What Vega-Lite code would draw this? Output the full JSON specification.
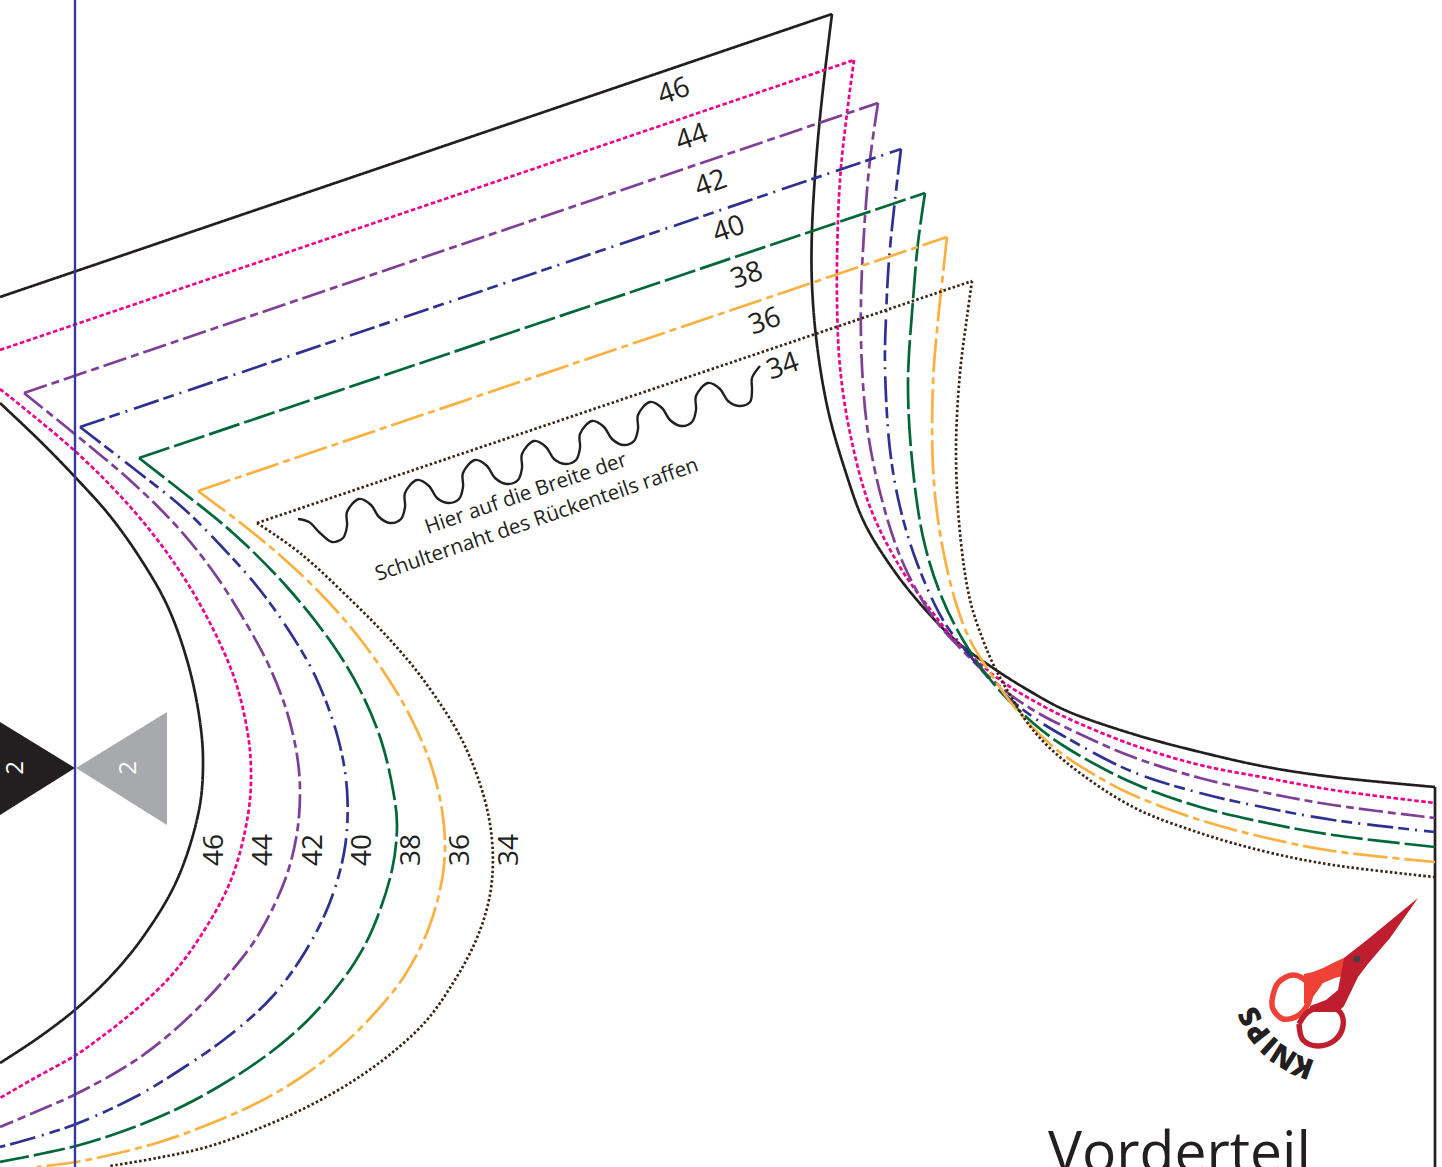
{"$schema":"https://vega.github.io/schema/vega-lite/v6.json","width":1442,"height":1167,"padding":0,"autosize":{"type":"none"},"background":"white","config":{"view":{"stroke":null}},
"datasets":{"lines":[
{"s":"46","p":"a","i":0,"x":0,"y":297},{"s":"46","p":"a","i":1,"x":832,"y":14},
{"s":"46","p":"b","i":0,"x":832,"y":14},{"s":"46","p":"b","i":1,"x":824,"y":80},{"s":"46","p":"b","i":2,"x":817,"y":150},{"s":"46","p":"b","i":3,"x":812,"y":230},{"s":"46","p":"b","i":4,"x":812,"y":285},{"s":"46","p":"b","i":5,"x":817,"y":345},{"s":"46","p":"b","i":6,"x":828,"y":410},{"s":"46","p":"b","i":7,"x":845,"y":470},{"s":"46","p":"b","i":8,"x":864,"y":522},{"s":"46","p":"b","i":9,"x":890,"y":565},{"s":"46","p":"b","i":10,"x":917,"y":600},{"s":"46","p":"b","i":11,"x":955,"y":640},{"s":"46","p":"b","i":12,"x":993,"y":668},{"s":"46","p":"b","i":13,"x":1033,"y":693},{"s":"46","p":"b","i":14,"x":1067,"y":711},{"s":"46","p":"b","i":15,"x":1133,"y":734},{"s":"46","p":"b","i":16,"x":1200,"y":752},{"s":"46","p":"b","i":17,"x":1267,"y":767},{"s":"46","p":"b","i":18,"x":1333,"y":777},{"s":"46","p":"b","i":19,"x":1435,"y":787},
{"s":"46","p":"c","i":0,"x":1435,"y":787},{"s":"46","p":"c","i":1,"x":1435,"y":1167},
{"s":"46","p":"d","i":0,"x":0,"y":403},{"s":"46","p":"d","i":1,"x":40,"y":441},{"s":"46","p":"d","i":2,"x":76,"y":478},{"s":"46","p":"d","i":3,"x":110,"y":516},{"s":"46","p":"d","i":4,"x":140,"y":558},{"s":"46","p":"d","i":5,"x":167,"y":605},{"s":"46","p":"d","i":6,"x":187,"y":660},{"s":"46","p":"d","i":7,"x":199,"y":715},{"s":"46","p":"d","i":8,"x":203,"y":760},{"s":"46","p":"d","i":9,"x":199,"y":810},{"s":"46","p":"d","i":10,"x":177,"y":880},{"s":"46","p":"d","i":11,"x":143,"y":937},{"s":"46","p":"d","i":12,"x":110,"y":977},{"s":"46","p":"d","i":13,"x":76,"y":1009},{"s":"46","p":"d","i":14,"x":38,"y":1038},{"s":"46","p":"d","i":15,"x":0,"y":1063},
{"s":"44","p":"a","i":0,"x":0,"y":350},{"s":"44","p":"a","i":1,"x":854,"y":60},
{"s":"44","p":"b","i":0,"x":854,"y":60},{"s":"44","p":"b","i":1,"x":847,"y":113},{"s":"44","p":"b","i":2,"x":841,"y":167},{"s":"44","p":"b","i":3,"x":838,"y":220},{"s":"44","p":"b","i":4,"x":837,"y":300},{"s":"44","p":"b","i":5,"x":840,"y":367},{"s":"44","p":"b","i":6,"x":850,"y":433},{"s":"44","p":"b","i":7,"x":870,"y":507},{"s":"44","p":"b","i":8,"x":900,"y":567},{"s":"44","p":"b","i":9,"x":933,"y":613},{"s":"44","p":"b","i":10,"x":955,"y":640},{"s":"44","p":"b","i":11,"x":1000,"y":680},{"s":"44","p":"b","i":12,"x":1043,"y":706},{"s":"44","p":"b","i":13,"x":1067,"y":718},{"s":"44","p":"b","i":14,"x":1133,"y":745},{"s":"44","p":"b","i":15,"x":1200,"y":765},{"s":"44","p":"b","i":16,"x":1267,"y":778},{"s":"44","p":"b","i":17,"x":1333,"y":790},{"s":"44","p":"b","i":18,"x":1435,"y":803},
{"s":"44","p":"d","i":0,"x":0,"y":389},{"s":"44","p":"d","i":1,"x":76,"y":452},{"s":"44","p":"d","i":2,"x":133,"y":510},{"s":"44","p":"d","i":3,"x":177,"y":567},{"s":"44","p":"d","i":4,"x":210,"y":623},{"s":"44","p":"d","i":5,"x":235,"y":680},{"s":"44","p":"d","i":6,"x":248,"y":735},{"s":"44","p":"d","i":7,"x":251,"y":773},{"s":"44","p":"d","i":8,"x":248,"y":815},{"s":"44","p":"d","i":9,"x":231,"y":880},{"s":"44","p":"d","i":10,"x":200,"y":937},{"s":"44","p":"d","i":11,"x":170,"y":977},{"s":"44","p":"d","i":12,"x":133,"y":1012},{"s":"44","p":"d","i":13,"x":100,"y":1038},{"s":"44","p":"d","i":14,"x":76,"y":1055},{"s":"44","p":"d","i":15,"x":33,"y":1079},{"s":"44","p":"d","i":16,"x":0,"y":1098},
{"s":"42","p":"a","i":0,"x":24,"y":393},{"s":"42","p":"a","i":1,"x":878,"y":103},
{"s":"42","p":"b","i":0,"x":878,"y":103},{"s":"42","p":"b","i":1,"x":870,"y":160},{"s":"42","p":"b","i":2,"x":865,"y":217},{"s":"42","p":"b","i":3,"x":861,"y":300},{"s":"42","p":"b","i":4,"x":862,"y":367},{"s":"42","p":"b","i":5,"x":868,"y":433},{"s":"42","p":"b","i":6,"x":882,"y":500},{"s":"42","p":"b","i":7,"x":903,"y":563},{"s":"42","p":"b","i":8,"x":933,"y":617},{"s":"42","p":"b","i":9,"x":967,"y":655},{"s":"42","p":"b","i":10,"x":1003,"y":689},{"s":"42","p":"b","i":11,"x":1033,"y":710},{"s":"42","p":"b","i":12,"x":1067,"y":728},{"s":"42","p":"b","i":13,"x":1133,"y":757},{"s":"42","p":"b","i":14,"x":1200,"y":778},{"s":"42","p":"b","i":15,"x":1267,"y":793},{"s":"42","p":"b","i":16,"x":1333,"y":805},{"s":"42","p":"b","i":17,"x":1435,"y":818},
{"s":"42","p":"d","i":0,"x":24,"y":393},{"s":"42","p":"d","i":1,"x":76,"y":435},{"s":"42","p":"d","i":2,"x":133,"y":483},{"s":"42","p":"d","i":3,"x":180,"y":530},{"s":"42","p":"d","i":4,"x":217,"y":577},{"s":"42","p":"d","i":5,"x":250,"y":630},{"s":"42","p":"d","i":6,"x":270,"y":668},{"s":"42","p":"d","i":7,"x":287,"y":712},{"s":"42","p":"d","i":8,"x":297,"y":755},{"s":"42","p":"d","i":9,"x":300,"y":790},{"s":"42","p":"d","i":10,"x":297,"y":833},{"s":"42","p":"d","i":11,"x":285,"y":880},{"s":"42","p":"d","i":12,"x":257,"y":937},{"s":"42","p":"d","i":13,"x":230,"y":973},{"s":"42","p":"d","i":14,"x":203,"y":1003},{"s":"42","p":"d","i":15,"x":170,"y":1034},{"s":"42","p":"d","i":16,"x":133,"y":1062},{"s":"42","p":"d","i":17,"x":76,"y":1094},{"s":"42","p":"d","i":18,"x":33,"y":1113},{"s":"42","p":"d","i":19,"x":0,"y":1127},
{"s":"40","p":"a","i":0,"x":80,"y":427},{"s":"40","p":"a","i":1,"x":901,"y":149},
{"s":"40","p":"b","i":0,"x":901,"y":149},{"s":"40","p":"b","i":1,"x":895,"y":200},{"s":"40","p":"b","i":2,"x":889,"y":260},{"s":"40","p":"b","i":3,"x":886,"y":317},{"s":"40","p":"b","i":4,"x":885,"y":367},{"s":"40","p":"b","i":5,"x":890,"y":450},{"s":"40","p":"b","i":6,"x":900,"y":507},{"s":"40","p":"b","i":7,"x":917,"y":563},{"s":"40","p":"b","i":8,"x":943,"y":620},{"s":"40","p":"b","i":9,"x":967,"y":652},{"s":"40","p":"b","i":10,"x":1000,"y":690},{"s":"40","p":"b","i":11,"x":1033,"y":717},{"s":"40","p":"b","i":12,"x":1067,"y":738},{"s":"40","p":"b","i":13,"x":1133,"y":772},{"s":"40","p":"b","i":14,"x":1200,"y":793},{"s":"40","p":"b","i":15,"x":1267,"y":808},{"s":"40","p":"b","i":16,"x":1333,"y":820},{"s":"40","p":"b","i":17,"x":1435,"y":832},
{"s":"40","p":"d","i":0,"x":80,"y":427},{"s":"40","p":"d","i":1,"x":133,"y":468},{"s":"40","p":"d","i":2,"x":183,"y":508},{"s":"40","p":"d","i":3,"x":223,"y":548},{"s":"40","p":"d","i":4,"x":260,"y":590},{"s":"40","p":"d","i":5,"x":293,"y":637},{"s":"40","p":"d","i":6,"x":317,"y":680},{"s":"40","p":"d","i":7,"x":338,"y":738},{"s":"40","p":"d","i":8,"x":347,"y":790},{"s":"40","p":"d","i":9,"x":345,"y":847},{"s":"40","p":"d","i":10,"x":330,"y":902},{"s":"40","p":"d","i":11,"x":305,"y":952},{"s":"40","p":"d","i":12,"x":272,"y":997},{"s":"40","p":"d","i":13,"x":230,"y":1035},{"s":"40","p":"d","i":14,"x":183,"y":1068},{"s":"40","p":"d","i":15,"x":137,"y":1096},{"s":"40","p":"d","i":16,"x":76,"y":1124},{"s":"40","p":"d","i":17,"x":33,"y":1138},{"s":"40","p":"d","i":18,"x":0,"y":1147},
{"s":"38","p":"a","i":0,"x":139,"y":458},{"s":"38","p":"a","i":1,"x":925,"y":193},
{"s":"38","p":"b","i":0,"x":925,"y":193},{"s":"38","p":"b","i":1,"x":918,"y":243},{"s":"38","p":"b","i":2,"x":913,"y":300},{"s":"38","p":"b","i":3,"x":908,"y":383},{"s":"38","p":"b","i":4,"x":912,"y":460},{"s":"38","p":"b","i":5,"x":923,"y":537},{"s":"38","p":"b","i":6,"x":940,"y":593},{"s":"38","p":"b","i":7,"x":963,"y":640},{"s":"38","p":"b","i":8,"x":993,"y":683},{"s":"38","p":"b","i":9,"x":1033,"y":723},{"s":"38","p":"b","i":10,"x":1067,"y":748},{"s":"38","p":"b","i":11,"x":1133,"y":783},{"s":"38","p":"b","i":12,"x":1200,"y":807},{"s":"38","p":"b","i":13,"x":1267,"y":823},{"s":"38","p":"b","i":14,"x":1333,"y":835},{"s":"38","p":"b","i":15,"x":1435,"y":847},
{"s":"38","p":"d","i":0,"x":139,"y":458},{"s":"38","p":"d","i":1,"x":180,"y":490},{"s":"38","p":"d","i":2,"x":233,"y":533},{"s":"38","p":"d","i":3,"x":287,"y":587},{"s":"38","p":"d","i":4,"x":333,"y":645},{"s":"38","p":"d","i":5,"x":360,"y":690},{"s":"38","p":"d","i":6,"x":381,"y":740},{"s":"38","p":"d","i":7,"x":393,"y":790},{"s":"38","p":"d","i":8,"x":397,"y":825},{"s":"38","p":"d","i":9,"x":392,"y":870},{"s":"38","p":"d","i":10,"x":373,"y":928},{"s":"38","p":"d","i":11,"x":355,"y":962},{"s":"38","p":"d","i":12,"x":333,"y":992},{"s":"38","p":"d","i":13,"x":308,"y":1020},{"s":"38","p":"d","i":14,"x":280,"y":1045},{"s":"38","p":"d","i":15,"x":250,"y":1067},{"s":"38","p":"d","i":16,"x":218,"y":1087},{"s":"38","p":"d","i":17,"x":185,"y":1105},{"s":"38","p":"d","i":18,"x":152,"y":1120},{"s":"38","p":"d","i":19,"x":115,"y":1134},{"s":"38","p":"d","i":20,"x":76,"y":1146},{"s":"38","p":"d","i":21,"x":45,"y":1153},{"s":"38","p":"d","i":22,"x":0,"y":1162},
{"s":"36","p":"a","i":0,"x":198,"y":491},{"s":"36","p":"a","i":1,"x":947,"y":237},
{"s":"36","p":"b","i":0,"x":947,"y":237},{"s":"36","p":"b","i":1,"x":942,"y":283},{"s":"36","p":"b","i":2,"x":938,"y":320},{"s":"36","p":"b","i":3,"x":933,"y":383},{"s":"36","p":"b","i":4,"x":933,"y":467},{"s":"36","p":"b","i":5,"x":940,"y":533},{"s":"36","p":"b","i":6,"x":955,"y":600},{"s":"36","p":"b","i":7,"x":970,"y":640},{"s":"36","p":"b","i":8,"x":987,"y":668},{"s":"36","p":"b","i":9,"x":1017,"y":710},{"s":"36","p":"b","i":10,"x":1057,"y":750},{"s":"36","p":"b","i":11,"x":1100,"y":778},{"s":"36","p":"b","i":12,"x":1133,"y":795},{"s":"36","p":"b","i":13,"x":1200,"y":820},{"s":"36","p":"b","i":14,"x":1267,"y":838},{"s":"36","p":"b","i":15,"x":1333,"y":851},{"s":"36","p":"b","i":16,"x":1435,"y":862},
{"s":"36","p":"d","i":0,"x":198,"y":491},{"s":"36","p":"d","i":1,"x":247,"y":528},{"s":"36","p":"d","i":2,"x":283,"y":558},{"s":"36","p":"d","i":3,"x":320,"y":593},{"s":"36","p":"d","i":4,"x":357,"y":635},{"s":"36","p":"d","i":5,"x":391,"y":683},{"s":"36","p":"d","i":6,"x":414,"y":724},{"s":"36","p":"d","i":7,"x":432,"y":768},{"s":"36","p":"d","i":8,"x":442,"y":810},{"s":"36","p":"d","i":9,"x":445,"y":845},{"s":"36","p":"d","i":10,"x":442,"y":880},{"s":"36","p":"d","i":11,"x":428,"y":930},{"s":"36","p":"d","i":12,"x":405,"y":975},{"s":"36","p":"d","i":13,"x":373,"y":1015},{"s":"36","p":"d","i":14,"x":337,"y":1050},{"s":"36","p":"d","i":15,"x":297,"y":1080},{"s":"36","p":"d","i":16,"x":253,"y":1105},{"s":"36","p":"d","i":17,"x":207,"y":1125},{"s":"36","p":"d","i":18,"x":160,"y":1142},{"s":"36","p":"d","i":19,"x":110,"y":1155},{"s":"36","p":"d","i":20,"x":76,"y":1162},{"s":"36","p":"d","i":21,"x":37,"y":1167},
{"s":"34","p":"a","i":0,"x":257,"y":523},{"s":"34","p":"a","i":1,"x":972,"y":281},
{"s":"34","p":"b","i":0,"x":972,"y":281},{"s":"34","p":"b","i":1,"x":967,"y":317},{"s":"34","p":"b","i":2,"x":960,"y":373},{"s":"34","p":"b","i":3,"x":956,"y":450},{"s":"34","p":"b","i":4,"x":960,"y":533},{"s":"34","p":"b","i":5,"x":970,"y":600},{"s":"34","p":"b","i":6,"x":983,"y":640},{"s":"34","p":"b","i":7,"x":995,"y":668},{"s":"34","p":"b","i":8,"x":1010,"y":695},{"s":"34","p":"b","i":9,"x":1033,"y":730},{"s":"34","p":"b","i":10,"x":1067,"y":763},{"s":"34","p":"b","i":11,"x":1133,"y":807},{"s":"34","p":"b","i":12,"x":1200,"y":833},{"s":"34","p":"b","i":13,"x":1267,"y":852},{"s":"34","p":"b","i":14,"x":1333,"y":865},{"s":"34","p":"b","i":15,"x":1435,"y":877},
{"s":"34","p":"d","i":0,"x":257,"y":523},{"s":"34","p":"d","i":1,"x":300,"y":553},{"s":"34","p":"d","i":2,"x":353,"y":602},{"s":"34","p":"d","i":3,"x":393,"y":643},{"s":"34","p":"d","i":4,"x":425,"y":682},{"s":"34","p":"d","i":5,"x":462,"y":740},{"s":"34","p":"d","i":6,"x":484,"y":797},{"s":"34","p":"d","i":7,"x":492,"y":840},{"s":"34","p":"d","i":8,"x":492,"y":880},{"s":"34","p":"d","i":9,"x":486,"y":912},{"s":"34","p":"d","i":10,"x":473,"y":947},{"s":"34","p":"d","i":11,"x":453,"y":983},{"s":"34","p":"d","i":12,"x":427,"y":1020},{"s":"34","p":"d","i":13,"x":393,"y":1052},{"s":"34","p":"d","i":14,"x":353,"y":1081},{"s":"34","p":"d","i":15,"x":307,"y":1107},{"s":"34","p":"d","i":16,"x":260,"y":1128},{"s":"34","p":"d","i":17,"x":207,"y":1147},{"s":"34","p":"d","i":18,"x":157,"y":1158},{"s":"34","p":"d","i":19,"x":110,"y":1166}
],
"wave":[{"i":0,"x":298,"y":519},{"i":1,"x":309,"y":522},{"i":2,"x":320,"y":533},{"i":3,"x":332,"y":542},{"i":4,"x":343,"y":538},{"i":5,"x":347,"y":526},{"i":6,"x":347,"y":512},{"i":7,"x":359,"y":499},{"i":8,"x":371,"y":505},{"i":9,"x":379,"y":517},{"i":10,"x":390,"y":523},{"i":11,"x":401,"y":519},{"i":12,"x":405,"y":507},{"i":13,"x":405,"y":493},{"i":14,"x":417,"y":480},{"i":15,"x":429,"y":486},{"i":16,"x":437,"y":498},{"i":17,"x":448,"y":503},{"i":18,"x":459,"y":499},{"i":19,"x":463,"y":487},{"i":20,"x":463,"y":473},{"i":21,"x":475,"y":460},{"i":22,"x":487,"y":466},{"i":23,"x":495,"y":478},{"i":24,"x":507,"y":484},{"i":25,"x":518,"y":480},{"i":26,"x":522,"y":468},{"i":27,"x":522,"y":454},{"i":28,"x":534,"y":441},{"i":29,"x":546,"y":447},{"i":30,"x":554,"y":459},{"i":31,"x":565,"y":464},{"i":32,"x":576,"y":460},{"i":33,"x":580,"y":448},{"i":34,"x":580,"y":434},{"i":35,"x":592,"y":421},{"i":36,"x":604,"y":427},{"i":37,"x":612,"y":439},{"i":38,"x":623,"y":445},{"i":39,"x":634,"y":441},{"i":40,"x":638,"y":429},{"i":41,"x":638,"y":415},{"i":42,"x":650,"y":402},{"i":43,"x":662,"y":408},{"i":44,"x":670,"y":420},{"i":45,"x":681,"y":426},{"i":46,"x":692,"y":422},{"i":47,"x":696,"y":410},{"i":48,"x":696,"y":396},{"i":49,"x":708,"y":383},{"i":50,"x":720,"y":389},{"i":51,"x":728,"y":401},{"i":52,"x":739,"y":406},{"i":53,"x":750,"y":402},{"i":54,"x":752,"y":390},{"i":55,"x":752,"y":378},{"i":56,"x":760,"y":366}],
"ringDark":[{"i":0,"x":1299,"y":1024},{"i":1,"x":1308,"y":1012},{"i":2,"x":1325,"y":1007},{"i":3,"x":1340,"y":1012},{"i":4,"x":1343,"y":1026},{"i":5,"x":1335,"y":1040},{"i":6,"x":1318,"y":1046},{"i":7,"x":1303,"y":1040},{"i":8,"x":1299,"y":1024}],
"ringLight":[{"i":0,"x":1272,"y":1000},{"i":1,"x":1278,"y":983},{"i":2,"x":1293,"y":975},{"i":3,"x":1306,"y":981},{"i":4,"x":1310,"y":998},{"i":5,"x":1299,"y":1015},{"i":6,"x":1283,"y":1019},{"i":7,"x":1273,"y":1009},{"i":8,"x":1272,"y":1000}],
"shapes":[
{"k":"grey","x":76,"y":768,"y2":768},{"k":"grey","x":167,"y":712,"y2":825},
{"k":"black","x":0,"y":722,"y2":815},{"k":"black","x":75,"y":768,"y2":768},
{"k":"handle","x":1304,"y":974,"y2":1004},{"k":"handle","x":1313,"y":972,"y2":997},{"k":"handle","x":1323,"y":968,"y2":983},{"k":"handle","x":1335,"y":962,"y2":978},{"k":"handle","x":1346,"y":957,"y2":975},
{"k":"blade","x":1310,"y":1006,"y2":1012},{"k":"blade","x":1326,"y":1000,"y2":1012},{"k":"blade","x":1338,"y":990,"y2":1012},{"k":"blade","x":1344,"y":958,"y2":1006},{"k":"blade","x":1358,"y":947,"y2":977},{"k":"blade","x":1367,"y":940,"y2":965},{"k":"blade","x":1390,"y":921,"y2":938},{"k":"blade","x":1418,"y":898,"y2":898}]
},
"encoding":{"x":{"field":"x","type":"quantitative","scale":{"domain":[0,1442]},"axis":null},"y":{"field":"y","type":"quantitative","scale":{"domain":[1167,0]},"axis":null}},
"layer":[
{"data":{"name":"shapes"},"transform":[{"filter":"datum.k==='grey'"}],"mark":{"type":"area","clip":true,"color":"#a7a9ac"},"encoding":{"y2":{"field":"y2"}}},
{"data":{"name":"shapes"},"transform":[{"filter":"datum.k==='black'"}],"mark":{"type":"area","clip":true,"color":"#231f20"},"encoding":{"y2":{"field":"y2"}}},
{"data":{"name":"shapes"},"transform":[{"filter":"datum.k==='handle'"}],"mark":{"type":"area","clip":true,"color":"#ef4136"},"encoding":{"y2":{"field":"y2"}}},
{"data":{"name":"lines"},"mark":{"type":"line","interpolate":"catmull-rom","strokeWidth":2.7,"clip":true},"encoding":{"detail":{"field":"p"},"order":{"field":"i","type":"quantitative"},"color":{"field":"s","type":"nominal","legend":null,"sort":null,"scale":{"domain":["46","44","42","40","38","36","34"],"range":["#231f20","#ec008c","#7f3f98","#2e3192","#006838","#fbb040","#3c2415"]}},"strokeDash":{"field":"s","type":"nominal","legend":null,"sort":null,"scale":{"domain":["46","44","42","40","38","36","34"],"range":[[1,0],[4.5,2.5],[24,5,8,5],[26,5,11,6,2,7],[32,5],[34,5,7,5],[2.5,2.3]]}}}},
{"data":{"values":[{"x":75}]},"mark":{"type":"rule","color":"#373a97","strokeWidth":2.4},"encoding":{"x":{"field":"x","type":"quantitative","scale":{"domain":[0,1442]},"axis":null},"y":null}},
{"data":{"name":"wave"},"mark":{"type":"line","interpolate":"catmull-rom","color":"#231f20","strokeWidth":2.4},"encoding":{"order":{"field":"i","type":"quantitative"}}},
{"data":{"name":"ringLight"},"mark":{"type":"line","interpolate":"catmull-rom","color":"#ef4136","strokeWidth":5.5},"encoding":{"order":{"field":"i","type":"quantitative"}}},
{"data":{"name":"ringDark"},"mark":{"type":"line","interpolate":"catmull-rom","color":"#be1e2d","strokeWidth":5.5},"encoding":{"order":{"field":"i","type":"quantitative"}}},
{"data":{"name":"shapes"},"transform":[{"filter":"datum.k==='blade'"}],"mark":{"type":"area","clip":true,"color":"#be1e2d"},"encoding":{"y2":{"field":"y2"}}},
{"data":{"values":[{"x":1357,"y":959}]},"mark":{"type":"point","filled":true,"size":45,"color":"#414042","opacity":1}},
{"data":{"values":[{"x":674,"y":92,"t":"46"},{"x":692,"y":138,"t":"44"},{"x":711,"y":184,"t":"42"},{"x":729,"y":230,"t":"40"},{"x":747,"y":276,"t":"38"},{"x":765,"y":322,"t":"36"},{"x":783,"y":367,"t":"34"}]},"mark":{"type":"text","font":"Open Sans","fontSize":28,"angle":341,"align":"center","baseline":"middle","color":"#231f20"},"encoding":{"text":{"field":"t"}}},
{"data":{"values":[{"x":215,"y":850,"t":"46"},{"x":264,"y":850,"t":"44"},{"x":314,"y":850,"t":"42"},{"x":363,"y":850,"t":"40"},{"x":412,"y":850,"t":"38"},{"x":461,"y":850,"t":"36"},{"x":510,"y":850,"t":"34"}]},"mark":{"type":"text","font":"Open Sans","fontSize":28,"angle":270,"align":"center","baseline":"middle","color":"#231f20"},"encoding":{"text":{"field":"t"}}},
{"data":{"values":[{"x":16,"y":768,"t":"2"},{"x":129,"y":768,"t":"2"}]},"mark":{"type":"text","font":"Open Sans","fontSize":24,"angle":270,"align":"center","baseline":"middle","color":"#ffffff"},"encoding":{"text":{"field":"t"}}},
{"data":{"values":[{"x":526,"y":494,"t":"Hier auf die Breite der"},{"x":537,"y":520,"t":"Schulternaht des Rückenteils raffen"}]},"mark":{"type":"text","font":"Open Sans","fontSize":20.6,"angle":341,"align":"center","baseline":"middle","color":"#231f20"},"encoding":{"text":{"field":"t"}}},
{"data":{"values":[{"x":1048,"y":1172,"t":"Vorderteil"}]},"mark":{"type":"text","font":"Open Sans","fontSize":57,"align":"left","baseline":"alphabetic","color":"#231f20","clip":true},"encoding":{"text":{"field":"t"}}},
{"data":{"values":[{"x":1303,"y":1066,"t":"K"}]},"mark":{"type":"text","font":"Open Sans","fontWeight":800,"fontSize":29,"angle":200,"align":"center","baseline":"middle","color":"#231f20"},"encoding":{"text":{"field":"t"}}},
{"data":{"values":[{"x":1284,"y":1056,"t":"N"}]},"mark":{"type":"text","font":"Open Sans","fontWeight":800,"fontSize":29,"angle":212,"align":"center","baseline":"middle","color":"#231f20"},"encoding":{"text":{"field":"t"}}},
{"data":{"values":[{"x":1270,"y":1045,"t":"I"}]},"mark":{"type":"text","font":"Open Sans","fontWeight":800,"fontSize":29,"angle":222,"align":"center","baseline":"middle","color":"#231f20"},"encoding":{"text":{"field":"t"}}},
{"data":{"values":[{"x":1259,"y":1032,"t":"P"}]},"mark":{"type":"text","font":"Open Sans","fontWeight":800,"fontSize":29,"angle":232,"align":"center","baseline":"middle","color":"#231f20"},"encoding":{"text":{"field":"t"}}},
{"data":{"values":[{"x":1251,"y":1016,"t":"S"}]},"mark":{"type":"text","font":"Open Sans","fontWeight":800,"fontSize":29,"angle":243,"align":"center","baseline":"middle","color":"#231f20"},"encoding":{"text":{"field":"t"}}}
]}
